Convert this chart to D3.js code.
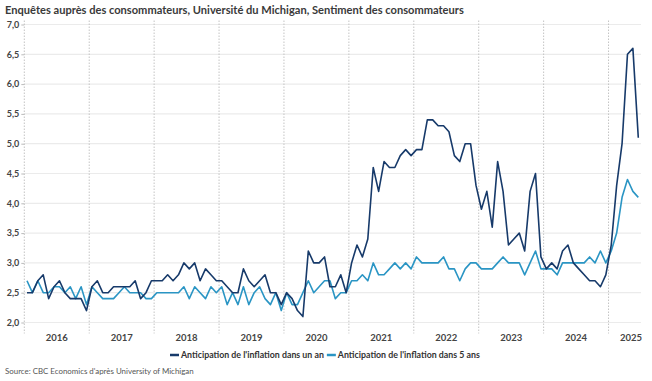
<!DOCTYPE html>
<html>
<head>
<meta charset="utf-8">
<script src="https://cdn.jsdelivr.net/npm/d3@7"></script>
<style>
  body { margin: 0; background: #fff; }
  svg text { font-family: Lato, "Open Sans", sans-serif; }
</style>
</head>
<body>
<div id="chart"></div>
<script>
// Data
const years = ["2016", "2017", "2018", "2019", "2020", "2021", "2022", "2023", "2024", "2025"];
const yTicks = [2.0, 2.5, 3.0, 3.5, 4.0, 4.5, 5.0, 5.5, 6.0, 6.5, 7.0];

// Anticipation de l'inflation dans un an (janv. 2016 - juin 2025)
const oneYear = [
    2.5, 2.5, 2.7, 2.8, 2.4, 2.6, 2.7, 2.5, 2.4, 2.4, 2.4, 2.2,
    2.6, 2.7, 2.5, 2.5, 2.6, 2.6, 2.6, 2.6, 2.7, 2.4, 2.5, 2.7,
    2.7, 2.7, 2.8, 2.7, 2.8, 3.0, 2.9, 3.0, 2.7, 2.9, 2.8, 2.7,
    2.7, 2.6, 2.5, 2.5, 2.9, 2.7, 2.6, 2.7, 2.8, 2.5, 2.5, 2.3,
    2.5, 2.4, 2.2, 2.1, 3.2, 3.0, 3.0, 3.1, 2.6, 2.6, 2.8, 2.5,
    3.0, 3.3, 3.1, 3.4, 4.6, 4.2, 4.7, 4.6, 4.6, 4.8, 4.9, 4.8,
    4.9, 4.9, 5.4, 5.4, 5.3, 5.3, 5.2, 4.8, 4.7, 5.0, 5.0, 4.3,
    3.9, 4.2, 3.6, 4.7, 4.2, 3.3, 3.4, 3.5, 3.2, 4.2, 4.5, 3.1,
    2.9, 3.0, 2.9, 3.2, 3.3, 3.0, 2.9, 2.8, 2.7, 2.7, 2.6, 2.8,
    3.3, 4.3, 5.0, 6.5, 6.6, 5.1
];

// Anticipation de l'inflation dans 5 ans
const fiveYear = [
    2.7, 2.5, 2.7, 2.5, 2.5, 2.6, 2.6, 2.5, 2.6, 2.4, 2.6, 2.3,
    2.6, 2.5, 2.4, 2.4, 2.4, 2.5, 2.6, 2.5, 2.5, 2.5, 2.4, 2.4,
    2.5, 2.5, 2.5, 2.5, 2.5, 2.6, 2.4, 2.6, 2.5, 2.4, 2.6, 2.5,
    2.6, 2.3, 2.5, 2.3, 2.6, 2.3, 2.5, 2.6, 2.4, 2.3, 2.5, 2.2,
    2.5, 2.3, 2.3, 2.5, 2.7, 2.5, 2.6, 2.7, 2.7, 2.4, 2.5, 2.5,
    2.7, 2.7, 2.8, 2.7, 3.0, 2.8, 2.8, 2.9, 3.0, 2.9, 3.0, 2.9,
    3.1, 3.0, 3.0, 3.0, 3.0, 3.1, 2.9, 2.9, 2.7, 2.9, 3.0, 3.0,
    2.9, 2.9, 2.9, 3.0, 3.1, 3.0, 3.0, 3.0, 2.8, 3.0, 3.2, 2.9,
    2.9, 2.9, 2.8, 3.0, 3.0, 3.0, 3.0, 3.0, 3.1, 3.0, 3.2, 3.0,
    3.2, 3.5, 4.1, 4.4, 4.2, 4.1
];

const series = [
    { name: "Anticipation de l'inflation dans un an", values: oneYear, color: "#173a6a" },
    { name: "Anticipation de l'inflation dans 5 ans", values: fiveYear, color: "#2a95c4" }
];

// Monthly categories
const months = d3.timeMonths(new Date(2016, 0, 1), new Date(2016, oneYear.length, 1));

// Dimensions
const W = 652, H = 381;
const margin = { top: 24.5, right: 11, bottom: 58.5, left: 24.3 };

const svg = d3.select("#chart")
    .append("svg")
    .attr("width", W)
    .attr("height", H);

// Scales
const x = d3.scaleBand()
    .domain(months)
    .range([margin.left, W - margin.right])
    .padding(0);

const y = d3.scaleLinear()
    .domain([2, 7])
    .range([H - margin.bottom, margin.top]);

const fr = d3.formatLocale({ decimal: ",", thousands: " ", grouping: [3], currency: ["", " €"] });
const fmt = fr.format(".1f");

// Title
svg.append("text")
    .attr("x", 5)
    .attr("y", 14)
    .style("font-size", "11.1px")
    .style("font-weight", "700")
    .style("fill", "#3a3a3a")
    .text("Enquêtes auprès des consommateurs, Université du Michigan, Sentiment des consommateurs");

// Horizontal gridlines
svg.append("g")
    .selectAll("line")
    .data(yTicks)
    .join("line")
    .attr("x1", margin.left)
    .attr("x2", W - margin.right)
    .attr("y1", d => y(d))
    .attr("y2", d => y(d))
    .attr("stroke", "#ebebeb")
    .attr("stroke-width", 1.2);

// Vertical year separators
const yearStarts = months.filter(d => d.getMonth() === 0 && d.getFullYear() > 2016);
svg.append("g")
    .selectAll("line")
    .data(yearStarts)
    .join("line")
    .attr("x1", d => x(d))
    .attr("x2", d => x(d))
    .attr("y1", margin.top - 4)
    .attr("y2", H - margin.bottom + 11)
    .attr("stroke", "#c4c4c4")
    .attr("stroke-dasharray", "1.5,1.5");

// Y axis
const yAxis = svg.append("g")
    .attr("transform", `translate(${margin.left},0)`)
    .call(d3.axisLeft(y).tickValues(yTicks).tickFormat(fmt).tickSize(3).tickPadding(2));
yAxis.select(".domain")
    .attr("d", `M0,${margin.top - 4}V${H - margin.bottom + 11}`)
    .attr("stroke", "#c4c4c4")
    .attr("stroke-dasharray", "1.5,1.5");
yAxis.selectAll(".tick line").attr("stroke", "#bbb");
yAxis.selectAll("text")
    .style("font-size", "9px")
    .style("font-weight", "700")
    .style("fill", "#444");

// Year labels
svg.append("g")
    .selectAll("text")
    .data(years)
    .join("text")
    .attr("x", d => {
        const inYear = months.filter(m => m.getFullYear() === +d);
        const left = x(inYear[0]);
        const c = left + x.bandwidth() * 6;
        return Math.min(c, W - margin.right - 10);
    })
    .attr("y", 341)
    .attr("text-anchor", "middle")
    .style("font-size", "9.5px")
    .style("font-weight", "700")
    .style("fill", "#444")
    .text(d => d);

// Lines
const line = d3.line()
    .x((d, i) => x(months[i]) + x.bandwidth() / 2)
    .y(d => y(d));

svg.append("g")
    .selectAll("path")
    .data(series.slice().reverse())
    .join("path")
    .attr("d", d => line(d.values))
    .attr("fill", "none")
    .attr("stroke", d => d.color)
    .attr("stroke-width", 1.6)
    .attr("stroke-linejoin", "round");

// Legend
const legend = svg.append("g").attr("transform", "translate(0,355)");
let lx = 170;
series.forEach(s => {
    legend.append("line")
        .attr("x1", lx).attr("x2", lx + 9)
        .attr("y1", 0).attr("y2", 0)
        .attr("stroke", s.color)
        .attr("stroke-width", 2.5);
    const t = legend.append("text")
        .attr("x", lx + 11)
        .attr("y", 3)
        .style("font-size", "8.8px")
        .style("font-weight", "700")
        .style("fill", "#333")
        .text(s.name);
    lx += 11 + t.node().getComputedTextLength() + 3;
});

// Source
svg.append("text")
    .attr("x", 5)
    .attr("y", 374)
    .style("font-size", "7.9px")
    .style("fill", "#555")
    .text("Source: CBC Economics d'après University of Michigan");
</script>
</body>
</html>
